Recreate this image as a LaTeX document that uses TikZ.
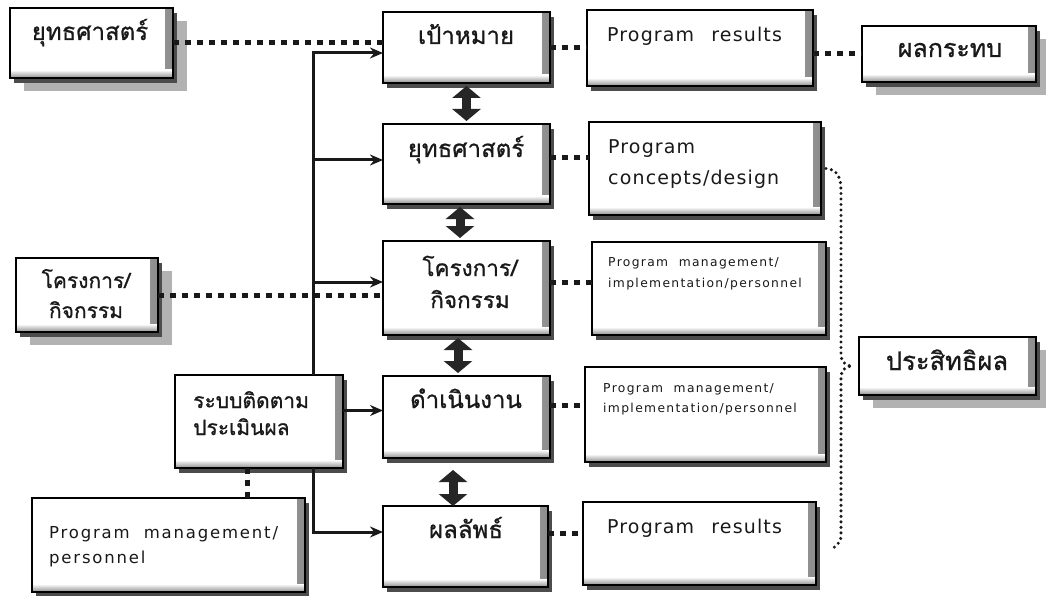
\documentclass[tikz,border=0pt]{standalone}
\usepackage{fontspec}
\usetikzlibrary{arrows.meta,calc}
\newfontfamily\thai[Script=Thai,FakeBold=0.9]{Loma}
\newfontfamily\latA[LetterSpace=6,WordSpace=2.4]{DejaVu Sans}
\newfontfamily\latB[LetterSpace=11,WordSpace=2]{DejaVu Sans}

\tikzset{
  box/.style={draw=black, line width=1.6pt, fill=white, inner sep=0pt, outer sep=0pt,
    preaction={fill=black!70, transform canvas={shift={(4pt,-5pt)}}},
    path picture={
      \shade[left color=white, right color=black!45]
        ([xshift=-8pt]path picture bounding box.north east) rectangle (path picture bounding box.south east);
      \shade[top color=white, bottom color=black!45]
        ([yshift=8pt]path picture bounding box.south west) rectangle (path picture bounding box.south east);
    }},
  bigshadow/.style={preaction={fill=black!30, transform canvas={shift={(14pt,-13pt)}}}},
  th/.style={font=\thai\fontsize{24}{28}\selectfont, text=black!90, inner sep=0pt},
  thm/.style={font=\thai\fontsize{21}{25}\selectfont, text=black!90, inner sep=0pt},
  en/.style={font=\latA\fontsize{19}{22}\selectfont, text=black!90, inner sep=0pt},
  enl/.style={font=\latB\fontsize{16.5}{20}\selectfont, text=black!90, inner sep=0pt},
  ens/.style={font=\latB\fontsize{12.3}{15}\selectfont, text=black!90, inner sep=0pt},
  sq/.style={line width=5pt, dash pattern=on 6pt off 6pt, draw=black!90},
  rd/.style={line width=3.4pt, line cap=round, dash pattern=on 0pt off 5.5pt, draw=black!90},
  arr/.style={line width=3pt, draw=black!90, -{Stealth[length=13pt,width=11pt]}},
  dbl/.style={line width=9pt, draw=black!85,
    {Triangle[width=28pt,length=12pt]}-{Triangle[width=28pt,length=12pt]},
    shorten <=3pt, shorten >=3pt},
}

\begin{document}
\begin{tikzpicture}[x=1pt,y=-1pt]
\useasboundingbox[fill=white] (0,0) rectangle (1046,596);

% outer source boxes
\node[bigshadow, box, minimum width=163pt, minimum height=70pt] (L1) at (91.5,43) {};
\node[bigshadow, box, minimum width=142pt, minimum height=74pt] (L2) at (87,295) {};
\node[box, minimum width=168pt, minimum height=93pt] (M) at (259,421.5) {};
\node[box, minimum width=273pt, minimum height=94pt] (L3) at (168.5,545) {};

% central chain
\node[box, minimum width=167pt, minimum height=71pt] (G1) at (466.5,47.5) {};
\node[box, minimum width=167pt, minimum height=80pt] (G2) at (466.5,164) {};
\node[box, minimum width=167pt, minimum height=94pt] (G3) at (466.5,288) {};
\node[box, minimum width=167pt, minimum height=82pt] (G4) at (466.5,417) {};
\node[box, minimum width=165pt, minimum height=81pt] (G5) at (465.5,546.5) {};

% program boxes
\node[box, minimum width=226pt, minimum height=76pt] (P1) at (700,48) {};
\node[box, minimum width=232pt, minimum height=93pt] (P2) at (705,168.5) {};
\node[box, minimum width=234pt, minimum height=93pt] (P3) at (709,288.5) {};
\node[box, minimum width=241pt, minimum height=95pt] (P4) at (705.5,414.5) {};
\node[box, minimum width=233pt, minimum height=83pt] (P5) at (699.5,543.5) {};

% outcome boxes
\node[bigshadow, box, minimum width=174pt, minimum height=56pt] (I1) at (949,54) {};
\node[bigshadow, box, minimum width=177pt, minimum height=58pt] (E) at (947.5,366) {};

% texts
\node[th, anchor=base] (tL1) at (90,40) {ยุทธศาสตร์};
\node[thm, anchor=base] (tL2a) at (86,288) {โครงการ/};
\node[thm, anchor=base] (tL2b) at (86,318) {กิจกรรม};
\node[thm, anchor=base west] (tMa) at (193,408) {ระบบติดตาม};
\node[thm, anchor=base west] (tMb) at (193,435) {ประเมินผล};
\node[enl, anchor=base west] (tL3a) at (49,538) {Program management/};
\node[enl, anchor=base west] (tL3b) at (49,563) {personnel};

\node[th, anchor=base] (tG1) at (466,44) {เป้าหมาย};
\node[th, anchor=base] (tG2) at (466,157) {ยุทธศาสตร์};
\node[thm, font=\thai\fontsize{22.5}{26}\selectfont, anchor=base] (tG3a) at (470,276) {โครงการ/};
\node[thm, font=\thai\fontsize{22.5}{26}\selectfont, anchor=base] (tG3b) at (470,308) {กิจกรรม};
\node[th, anchor=base] (tG4) at (466,408) {ดำเนินงาน};
\node[th, anchor=base] (tG5) at (466,538) {ผลลัพธ์};

\node[en, anchor=base west] (tP1) at (607,42) {Program results};
\node[en, anchor=base west] (tP2a) at (608,154) {Program};
\node[en, anchor=base west] (tP2b) at (608,185) {concepts/design};
\node[ens, anchor=base west] (tP3a) at (608,266) {Program management/};
\node[ens, anchor=base west] (tP3b) at (608,287) {implementation/personnel};
\node[ens, anchor=base west] (tP4a) at (603,392) {Program management/};
\node[ens, anchor=base west] (tP4b) at (603,412) {implementation/personnel};
\node[en, anchor=base west] (tP5) at (607,533) {Program results};

\node[th, font=\thai\fontsize{25}{29}\selectfont, anchor=base] (tI1) at (950,57) {ผลกระทบ};
\node[th, font=\thai\fontsize{25.5}{29}\selectfont, anchor=base] (tE) at (947,370) {ประสิทธิผล};

% monitoring spine and arrows into the chain
\coordinate (top) at (313,53);
\coordinate (bot) at (313,532);
\draw[arr] (M.north -| top) -- (top) -- (top -| G1.west);
\draw[arr] ([yshift=4pt]G2.west -| top) -- ([yshift=4pt]G2.west);
\draw[arr] ([yshift=6pt]G3.west -| top) -- ([yshift=6pt]G3.west);
\draw[arr] ([yshift=11pt]M.east) -- ([yshift=11pt]M.east -| G4.west);
\draw[arr] (M.south -| bot) -- (bot) -- (bot -| G5.west);

% square-dotted links
\draw[sq] (L1.east) -- (L1.east -| G1.west);
\draw[sq] (L2.east) -- (L2.east -| G3.west);
\draw[sq] ([xshift=-12pt]M.south) -- ([xshift=-12pt]M.south |- L3.north);
\draw[sq] (G1.east) -- (G1.east -| P1.west);
\draw[sq] (I1.west -| P1.east) -- (I1.west);
\draw[sq] ([yshift=6pt]G2.east) -- ([yshift=6pt]G2.east -| P2.west);
\draw[sq] ([yshift=6pt]G3.east) -- ([yshift=6pt]G3.east -| P3.west);
\draw[sq] ([yshift=12pt]G4.east) -- ([yshift=12pt]G4.east -| P4.west);
\draw[sq] ([yshift=13pt]G5.east) -- ([yshift=13pt]G5.east -| P5.west);

% double arrows down the chain
\draw[dbl] (G1.south) -- (G2.north);
\draw[dbl] ([xshift=-6.5pt]G2.south) -- ([xshift=-6.5pt]G3.north);
\draw[dbl] ([xshift=-8.5pt]G3.south) -- ([xshift=-8.5pt]G4.north);
\draw[dbl, shorten <=12pt, shorten >=0pt] ([xshift=-13.5pt]G4.south) -- ([xshift=-12.5pt]G5.north);

% brace-like dotted bracket to effectiveness
\coordinate (cA) at ([xshift=5pt]P2.east);
\coordinate (cZ) at ([shift={(15pt,-6pt)}]P5.east);
\coordinate (cN) at ([xshift=-7pt]E.west);
\draw[rd] (cA) .. controls +(12,1) and +(0,-12) .. ($(cA)+(15,22)$)
  -- ($(cN)+(-11,-10)$) .. controls +(0,6) and +(-5,0) .. (cN)
  .. controls +(-5,0) and +(0,-6) .. ($(cN)+(-11,10)$)
  -- ($(cZ)+(10,-14)$) .. controls +(0,8) and +(4,-3) .. (cZ);
\end{tikzpicture}
\end{document}
